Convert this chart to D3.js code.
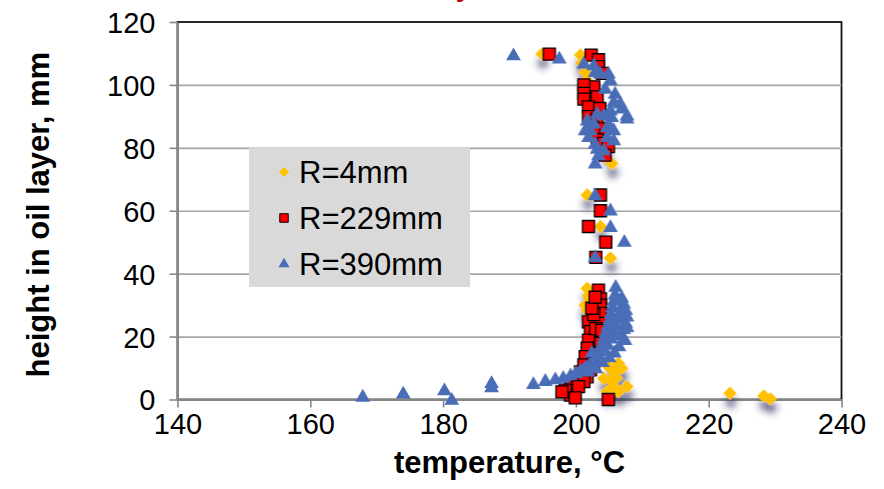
<!DOCTYPE html>
<html>
<head>
<meta charset="utf-8">
<script src="https://cdn.jsdelivr.net/npm/d3@7/dist/d3.min.js"></script>
<style>
  body { margin: 0; background: #fff; }
  text { font-family: "Liberation Sans", Arial, sans-serif; }
</style>
</head>
<body>
<svg id="chart" width="884" height="489"></svg>
<script>
// series values: [temperature °C, height mm]
var r4 = [
  [194.9,109.8],[200.7,109.5],[200.9,107],[201.4,104],[201.6,101.5],
  [204.1,82.5],[204.6,79],[205.4,75],
  [201.7,65],[203.7,55],[205.2,45],
  [201.7,35.3],[201.9,33],[201.4,30],[201.7,28.4],[202.0,26.5],
  [206.4,11.5],[206.9,9.9],[205.9,8.8],[204.2,6.7],[205.2,6.2],[205.7,4.1],
  [207.7,4.1],[206.4,2.5],[204.7,2.5],[206.1,6.8],[205.0,10.2],
  [223.2,2],[228.3,1.1],[229.3,0.2]
];
var r229 = [
  [196.0,109.8],[202.3,109.5],[203.4,108],[203.4,105.8],[204.0,103.7],[202.7,99.4],
  [201.2,100],[201.2,97.3],[201.2,95.5],[203.2,96.2],[201.9,93],[203.6,92.5],
  [201.9,89.9],[203.2,89],[202.4,86.7],[203.8,86],[202.7,84.6],[203.2,82.5],
  [204.2,81.4],[204.9,80.4],[204.4,77.7],
  [203.7,65],[203.7,60],[201.9,55],[204.5,50],[203.0,45.2],
  [203.4,34.8],[203.7,32],[203.7,30],[203.7,27.4],[203.7,24.2],[201.9,24.7],
  [202.2,21.6],[201.9,18.9],[201.7,16.3],[201.4,13.6],[201.2,11],[200.7,8.8],
  [200.4,6.7],[199.7,5.1],[199.2,3.6],[199.2,1.4],[198.4,3],[197.9,2.4],[204.9,0],
  [204.2,20],[203.7,17.9],[203.2,14.7],[202.7,11.5],[202.2,9.4],[201.7,7.2],
  [201.2,5.7],[200.4,4.1],[202.7,27],[202.4,29],[203.0,22.5],[199.9,0.5],
  [202.9,32.5],[203.9,22]
];
var r390 = [
  [190.6,109.5],[197.5,108.5],[201.2,106.9],[202.7,106.3],[202.9,104.2],[203.7,103.7],
  [204.9,103.7],[205.2,101.6],[204.4,98.9],[205.9,97.3],[205.7,94.7],[206.7,94.2],
  [206.9,92.6],[207.7,90.4],[207.7,89.4],[205.2,92],[204.2,90.4],[203.2,91],
  [205.4,89.9],[202.7,87.8],[201.7,88.8],[205.2,86.7],[204.7,86.7],[205.7,85.7],
  [201.4,85.7],[202.2,85.7],[201.9,83.5],[204.7,83.5],[205.7,82.5],[202.9,81.4],
  [203.2,79.8],[204.2,79.3],[203.4,77.7],[202.9,75.1],
  [202.9,65],[205.2,60.2],[205.2,54.9],[207.3,50.2],[202.9,45.4],
  [167.9,1],[174.0,2],[180.2,3],[181.3,0],[187.3,4],[187.3,5.3],[193.6,5],
  [195.4,6],[196.9,6.5],[198.1,7],[199.2,7.8],[200.0,8.5],[200.7,9.4],[201.4,10.2],
  [202.0,11],[202.4,15],[202.6,12.3],[203.1,13.8],[203.5,15.5],[203.9,17.5],
  [204.2,19.5],[204.5,21.5],[204.8,23.5],[205.1,25.5],[205.3,27.5],[205.5,29.5],
  [205.7,31.5],[205.9,33.5],[206.0,35.9],[204.2,15.7],[204.8,17.5],[205.3,19.5],
  [205.7,21.5],[206.0,23.5],[206.3,25.5],[206.6,27.5],[206.9,29.5],[207.2,30.6],
  [206.8,20.5],[207.2,22.5],[207.5,24.5],[207.7,26.5],[207.7,23.1],[207.4,19],
  [206.5,17],[205.8,15],[205.0,13.5],[204.0,12],[203.0,10],[201.8,9],
  [206.9,32.5],[207.5,28.5]
];
var xTicks = [140, 160, 180, 200, 220, 240];
var yTicks = [0, 20, 40, 60, 80, 100, 120];
var legendLabels = ["R=4mm", "R=229mm", "R=390mm"];

var margin = {top: 22, left: 177.5, right: 42.5, bottom: 89.5};
var width = 884 - margin.left - margin.right,
    height = 489 - margin.top - margin.bottom;

var svg = d3.select("#chart");

// red title, pushed mostly above the picture as in the reference
svg.append("text")
    .attr("x", 392).attr("y", -4)
    .style("font-size", "28px").style("font-weight", "bold")
    .style("fill", "#c00000")
    .text("oil layer");

var defs = svg.append("defs");
var shadow = defs.append("filter").attr("id", "shadow")
    .attr("x", "-100%").attr("y", "-100%").attr("width", "300%").attr("height", "300%");
shadow.append("feDropShadow")
    .attr("dx", 1).attr("dy", 9).attr("stdDeviation", 3.5)
    .attr("flood-color", "#26265a").attr("flood-opacity", 0.65);

var g = svg.append("g").attr("transform", "translate(" + margin.left + "," + margin.top + ")");

var x = d3.scaleLinear().domain([140, 240]).range([0, width]);
var y = d3.scaleLinear().domain([0, 120]).range([height, 0]);

// plot frame
g.append("rect")
    .attr("width", width).attr("height", height)
    .attr("fill", "#fff").attr("stroke", "#111").attr("stroke-width", 1.8);

// gridlines
g.append("g").attr("class", "gridy")
    .call(d3.axisLeft(y).tickValues(yTicks.slice(1, -1)).tickSize(-width).tickFormat(""))
    .call(function (s) { s.select(".domain").remove(); })
    .selectAll("line").attr("stroke", "#a6a6a6").attr("stroke-width", 1.6);

// axes
var xAxis = g.append("g").attr("class", "x axis")
    .attr("transform", "translate(0," + height + ")")
    .call(d3.axisBottom(x).tickValues(xTicks).tickSize(8).tickPadding(6).tickSizeOuter(0));
var yAxis = g.append("g").attr("class", "y axis")
    .call(d3.axisLeft(y).tickValues(yTicks).tickSize(8).tickPadding(14).tickSizeOuter(0));

[xAxis, yAxis].forEach(function (a) {
  a.select(".domain").attr("stroke", "#868686").attr("stroke-width", 2);
  a.selectAll(".tick line").attr("stroke", "#868686").attr("stroke-width", 1.6);
  a.selectAll(".tick text")
      .style("font-size", "29px").style("font-family", "'Liberation Sans', Arial, sans-serif")
      .attr("fill", "#000");
});
yAxis.selectAll(".tick text").attr("dy", "0.36em");

// axis titles
svg.append("text")
    .attr("x", margin.left + width / 2).attr("y", 473)
    .attr("text-anchor", "middle")
    .style("font-size", "31px").style("font-weight", "bold")
    .text("temperature, \u00B0C");
svg.append("text")
    .attr("transform", "translate(49," + (margin.top + height / 2 + 4) + ") rotate(-90)")
    .attr("text-anchor", "middle")
    .style("font-size", "31px").style("font-weight", "bold")
    .text("height in oil layer, mm");

// markers
var diamond = d3.symbol(d3.symbolSquare, 90)();
var square = d3.symbol(d3.symbolSquare, 144)();
var triangle = d3.symbol(d3.symbolTriangle, 95)();

g.append("g").attr("filter", "url(#shadow)")
  .selectAll("path").data(r4).enter().append("path")
    .attr("d", diamond)
    .attr("transform", function (d) { return "translate(" + x(d[0]) + "," + y(d[1]) + ") rotate(45)"; })
    .attr("fill", "#ffc000");

g.append("g")
  .selectAll("path").data(r229).enter().append("path")
    .attr("d", square)
    .attr("transform", function (d) { return "translate(" + x(d[0]) + "," + y(d[1]) + ")"; })
    .attr("fill", "#ff0000").attr("stroke", "#000").attr("stroke-width", 1.3);

g.append("g")
  .selectAll("path").data(r390).enter().append("path")
    .attr("d", triangle)
    .attr("transform", function (d) { return "translate(" + x(d[0]) + "," + (y(d[1]) + 1) + ")"; })
    .attr("fill", "#4a6db8");

// legend
var legend = svg.append("g").attr("transform", "translate(249,148)");
legend.append("rect").attr("width", 221).attr("height", 139).attr("fill", "#d9d9d9");
var marks = [
  {path: d3.symbol(d3.symbolSquare, 52)(), rot: 45, fill: "#ffc000", stroke: "none"},
  {path: d3.symbol(d3.symbolSquare, 72)(), rot: 0, fill: "#ff0000", stroke: "#000"},
  {path: d3.symbol(d3.symbolTriangle, 52)(), rot: 0, fill: "#4a6db8", stroke: "none"}
];
legendLabels.forEach(function (lab, i) {
  var row = legend.append("g").attr("transform", "translate(0," + (24 + i * 46) + ")");
  row.append("path").attr("d", marks[i].path)
      .attr("transform", "translate(35,0) rotate(" + marks[i].rot + ")")
      .attr("fill", marks[i].fill).attr("stroke", marks[i].stroke).attr("stroke-width", 1);
  row.append("text").attr("x", 50).attr("dy", "0.36em")
      .style("font-size", "31px").text(lab);
});
</script>
</body>
</html>
